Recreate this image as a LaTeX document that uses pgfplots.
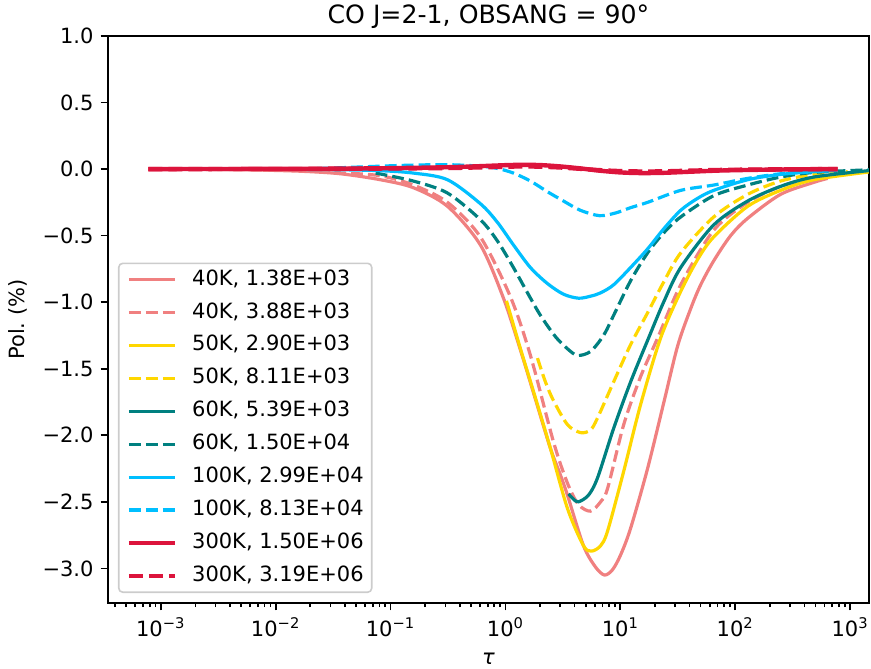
\documentclass[border=0pt]{standalone}
\usepackage{fontspec}
\setmainfont{DejaVu Sans}
\usepackage{pgfplots}
\pgfplotsset{compat=1.18}
\definecolor{csal}{HTML}{F08080}
\definecolor{cgold}{HTML}{FFD700}
\definecolor{cteal}{HTML}{008080}
\definecolor{ccyan}{HTML}{00BFFF}
\definecolor{cred}{HTML}{DC143C}
\frenchspacing
\begin{document}
\begin{tikzpicture}
\begin{axis}[
  xmode=log, log basis x=10,
  scale only axis, width=380.5pt, height=283.5pt,
  xmin=3.47e-4, xmax=1460, ymin=-3.26, ymax=1.0,
  axis line style={line width=0.85pt},
  every tick/.style={black, line width=0.85pt},
  tick align=outside, tick pos=left,
  major tick length=3.7pt, minor tick length=2.1pt,
  xtick={1e-3,1e-2,1e-1,1,10,100,1000},
  xticklabels={10\textsuperscript{−3},10\textsuperscript{−2},10\textsuperscript{−1},10\textsuperscript{0},10\textsuperscript{1},10\textsuperscript{2},10\textsuperscript{3}},
  minor xtick={4e-4,5e-4,6e-4,7e-4,8e-4,9e-4,2e-3,3e-3,4e-3,5e-3,6e-3,7e-3,8e-3,9e-3,2e-2,3e-2,4e-2,5e-2,6e-2,7e-2,8e-2,9e-2,0.2,0.3,0.4,0.5,0.6,0.7,0.8,0.9,2,3,4,5,6,7,8,9,20,30,40,50,60,70,80,90,200,300,400,500,600,700,800,900},
  ytick={-3,-2.5,-2,-1.5,-1,-0.5,0,0.5,1},
  yticklabels={−3.0,−2.5,−2.0,−1.5,−1.0,−0.5,0.0,0.5,1.0},
  tick label style={font=\fontsize{10.5}{12.6}\selectfont},
  title={CO J=2-1, OBSANG = 90°},
  title style={font=\fontsize{12.6}{15}\selectfont, at={(0.5,1)}, anchor=base, yshift=0.35pt},
  xlabel={\itshape τ},
  xlabel style={font=\fontsize{10.5}{12.6}\selectfont, at={(axis description cs:0.5,0)}, anchor=base, yshift=-31pt},
  ylabel={Pol. (\%)},
  ylabel style={font=\fontsize{10.5}{12.6}\selectfont, at={(axis description cs:-0.1183,0.5)}, anchor=center},
  legend cell align=left,
  legend image code/.code={\draw[#1] (0pt,0pt) -- (23pt,0pt);},
  legend style={draw=black!20, line width=0.8pt, rounded corners=2pt, fill=white, fill opacity=0.8, text opacity=1,
    at={(axis description cs:0.0131,0.0176)}, anchor=south west,
    font=\fontsize{10.5}{12.6}\selectfont, inner xsep=4pt, inner ysep=3.1pt, row sep=6.25pt,
    nodes={inner sep=0pt, text height=7.8pt, text depth=2.4pt},
    /tikz/every odd column/.append style={column sep=7.5pt}},
  every axis plot/.append style={line width=1.6pt, smooth, tension=0.5},
]
% 40K solid
\addplot[csal] coordinates {(7.8e-4,0) (2.2e-3,-0.002) (6e-3,-0.006) (0.0164,-0.016) (0.0365,-0.035) (0.0815,-0.08) (0.158,-0.14) (0.313,-0.28) (0.605,-0.57) (0.961,-0.97) (1.351,-1.36) (1.825,-1.73) (2.466,-2.10) (3.014,-2.30) (3.467,-2.45) (4.78,-2.83) (6.08,-2.99) (7.28,-3.05) (8.55,-3.01) (10.04,-2.90) (12.27,-2.70) (17.26,-2.25) (23.8,-1.76) (31.5,-1.33) (40.9,-1.05) (50.0,-0.87) (64.9,-0.69) (91.2,-0.50) (128.3,-0.37) (248,-0.19) (482,-0.10) (638,-0.07)};
\addlegendentry{40K, 1.38E+03}
% 40K dashed
\addplot[csal, dash pattern=on 5.9pt off 2.55pt] coordinates {(7.8e-4,0) (6e-3,-0.004) (0.0164,-0.012) (0.0365,-0.028) (0.0815,-0.05) (0.158,-0.12) (0.313,-0.25) (0.605,-0.51) (1.105,-0.96) (1.65,-1.40) (2.62,-2.05) (3.467,-2.36) (4.32,-2.52) (5.50,-2.57) (6.73,-2.50) (7.74,-2.40) (10.7,-1.92) (15.0,-1.56) (21.1,-1.27) (33.5,-0.87) (64.9,-0.46) (128.3,-0.25) (248,-0.13) (482,-0.06) (638,-0.05)};
\addlegendentry{40K, 3.88E+03}
% 50K solid
\addplot[cgold] coordinates {(1.02,-0.99) (1.351,-1.35) (1.825,-1.72) (2.466,-2.10) (3.467,-2.55) (4.78,-2.83) (5.62,-2.87) (6.73,-2.83) (7.74,-2.72) (10.7,-2.27) (15.0,-1.77) (22.4,-1.27) (33.5,-0.92) (47,-0.68) (64.9,-0.51) (128.3,-0.28) (248,-0.16) (482,-0.08) (1511,-0.02)};
\addlegendentry{50K, 2.90E+03}
% 50K dashed
\addplot[cgold, dash pattern=on 5.9pt off 2.55pt] coordinates {(1.90,-1.42) (2.23,-1.60) (2.62,-1.74) (3.467,-1.92) (4.50,-1.98) (5.50,-1.96) (6.33,-1.87) (8.73,-1.60) (12.27,-1.32) (17.26,-1.08) (23.8,-0.85) (33.5,-0.63) (64.9,-0.36) (128.3,-0.19) (248,-0.09) (482,-0.04) (953,-0.02)};
\addlegendentry{50K, 8.11E+03}
% 60K solid
\addplot[cteal] coordinates {(3.54,-2.44) (3.91,-2.48) (4.32,-2.50) (5.28,-2.45) (6.33,-2.32) (8.73,-1.95) (12.27,-1.60) (17.6,-1.27) (23.8,-1.00) (33.5,-0.74) (64.9,-0.42) (128.3,-0.24) (248,-0.13) (482,-0.06) (1511,-0.01)};
\addlegendentry{60K, 5.39E+03}
% 60K dashed
\addplot[cteal, dash pattern=on 5.9pt off 2.55pt] coordinates {(0.0741,-0.03) (0.158,-0.09) (0.313,-0.18) (0.605,-0.38) (0.851,-0.54) (1.174,-0.74) (1.556,-0.93) (2.02,-1.10) (2.73,-1.26) (3.467,-1.35) (4.24,-1.40) (5.50,-1.37) (7.14,-1.25) (8.73,-1.10) (12.27,-0.84) (17.26,-0.63) (23.8,-0.48) (33.5,-0.36) (64.9,-0.20) (128.3,-0.12) (248,-0.06) (482,-0.025) (1511,-0.005)};
\addlegendentry{60K, 1.50E+04}
% 100K solid
\addplot[ccyan] coordinates {(6e-3,0) (0.0164,-0.002) (0.0365,-0.005) (0.0815,-0.012) (0.158,-0.03) (0.313,-0.08) (0.605,-0.26) (0.851,-0.40) (1.174,-0.57) (1.65,-0.74) (2.32,-0.86) (3.20,-0.94) (4.32,-0.97) (5.50,-0.955) (6.73,-0.93) (8.73,-0.87) (12.27,-0.74) (17.26,-0.60) (23.8,-0.45) (33.5,-0.31) (47,-0.22) (64.9,-0.16) (128.3,-0.08) (248,-0.04) (482,-0.02) (780,-0.01)};
\addlegendentry{100K, 2.99E+04}
% 100K dashed
\addplot[ccyan, dash pattern=on 5.9pt off 2.55pt] coordinates {(0.0164,0) (0.0365,0.01) (0.0815,0.022) (0.158,0.03) (0.313,0.033) (0.605,0.022) (0.851,0.005) (1.174,-0.03) (1.65,-0.09) (2.32,-0.17) (3.20,-0.24) (4.50,-0.31) (6.59,-0.35) (9.07,-0.33) (12.27,-0.29) (17.26,-0.25) (33.5,-0.16) (64.9,-0.12) (128.3,-0.07) (248,-0.035) (482,-0.015) (827,-0.01)};
\addlegendentry{100K, 8.13E+04}
% 300K solid
\addplot[cred, line width=2.2pt] coordinates {(7.8e-4,0) (0.0164,0.002) (0.0815,0.006) (0.313,0.014) (0.605,0.022) (1.04,0.03) (1.44,0.032) (2.02,0.03) (3.0,0.02) (4.5,0.005) (6.6,-0.012) (10,-0.025) (15,-0.03) (23.8,-0.028) (40,-0.02) (80,-0.01) (248,-0.003) (780,0)};
\addlegendentry{300K, 1.50E+06}
% 300K dashed
\addplot[cred, line width=2.2pt, dash pattern=on 7pt off 3pt] coordinates {(7.8e-4,0) (0.0164,0.001) (0.0815,0.004) (0.313,0.008) (0.605,0.013) (1.04,0.018) (1.44,0.02) (2.02,0.018) (3.0,0.012) (4.5,0.002) (6.6,-0.008) (10,-0.015) (15,-0.018) (23.8,-0.017) (40,-0.012) (80,-0.006) (248,-0.002) (780,0)};
\addlegendentry{300K, 3.19E+06}
\end{axis}
\pgfresetboundingbox
\path[use as bounding box] ([xshift=-54pt, yshift=-33pt]current axis.south west) rectangle ([xshift=1pt, yshift=18pt]current axis.north east);
\end{tikzpicture}
\end{document}
